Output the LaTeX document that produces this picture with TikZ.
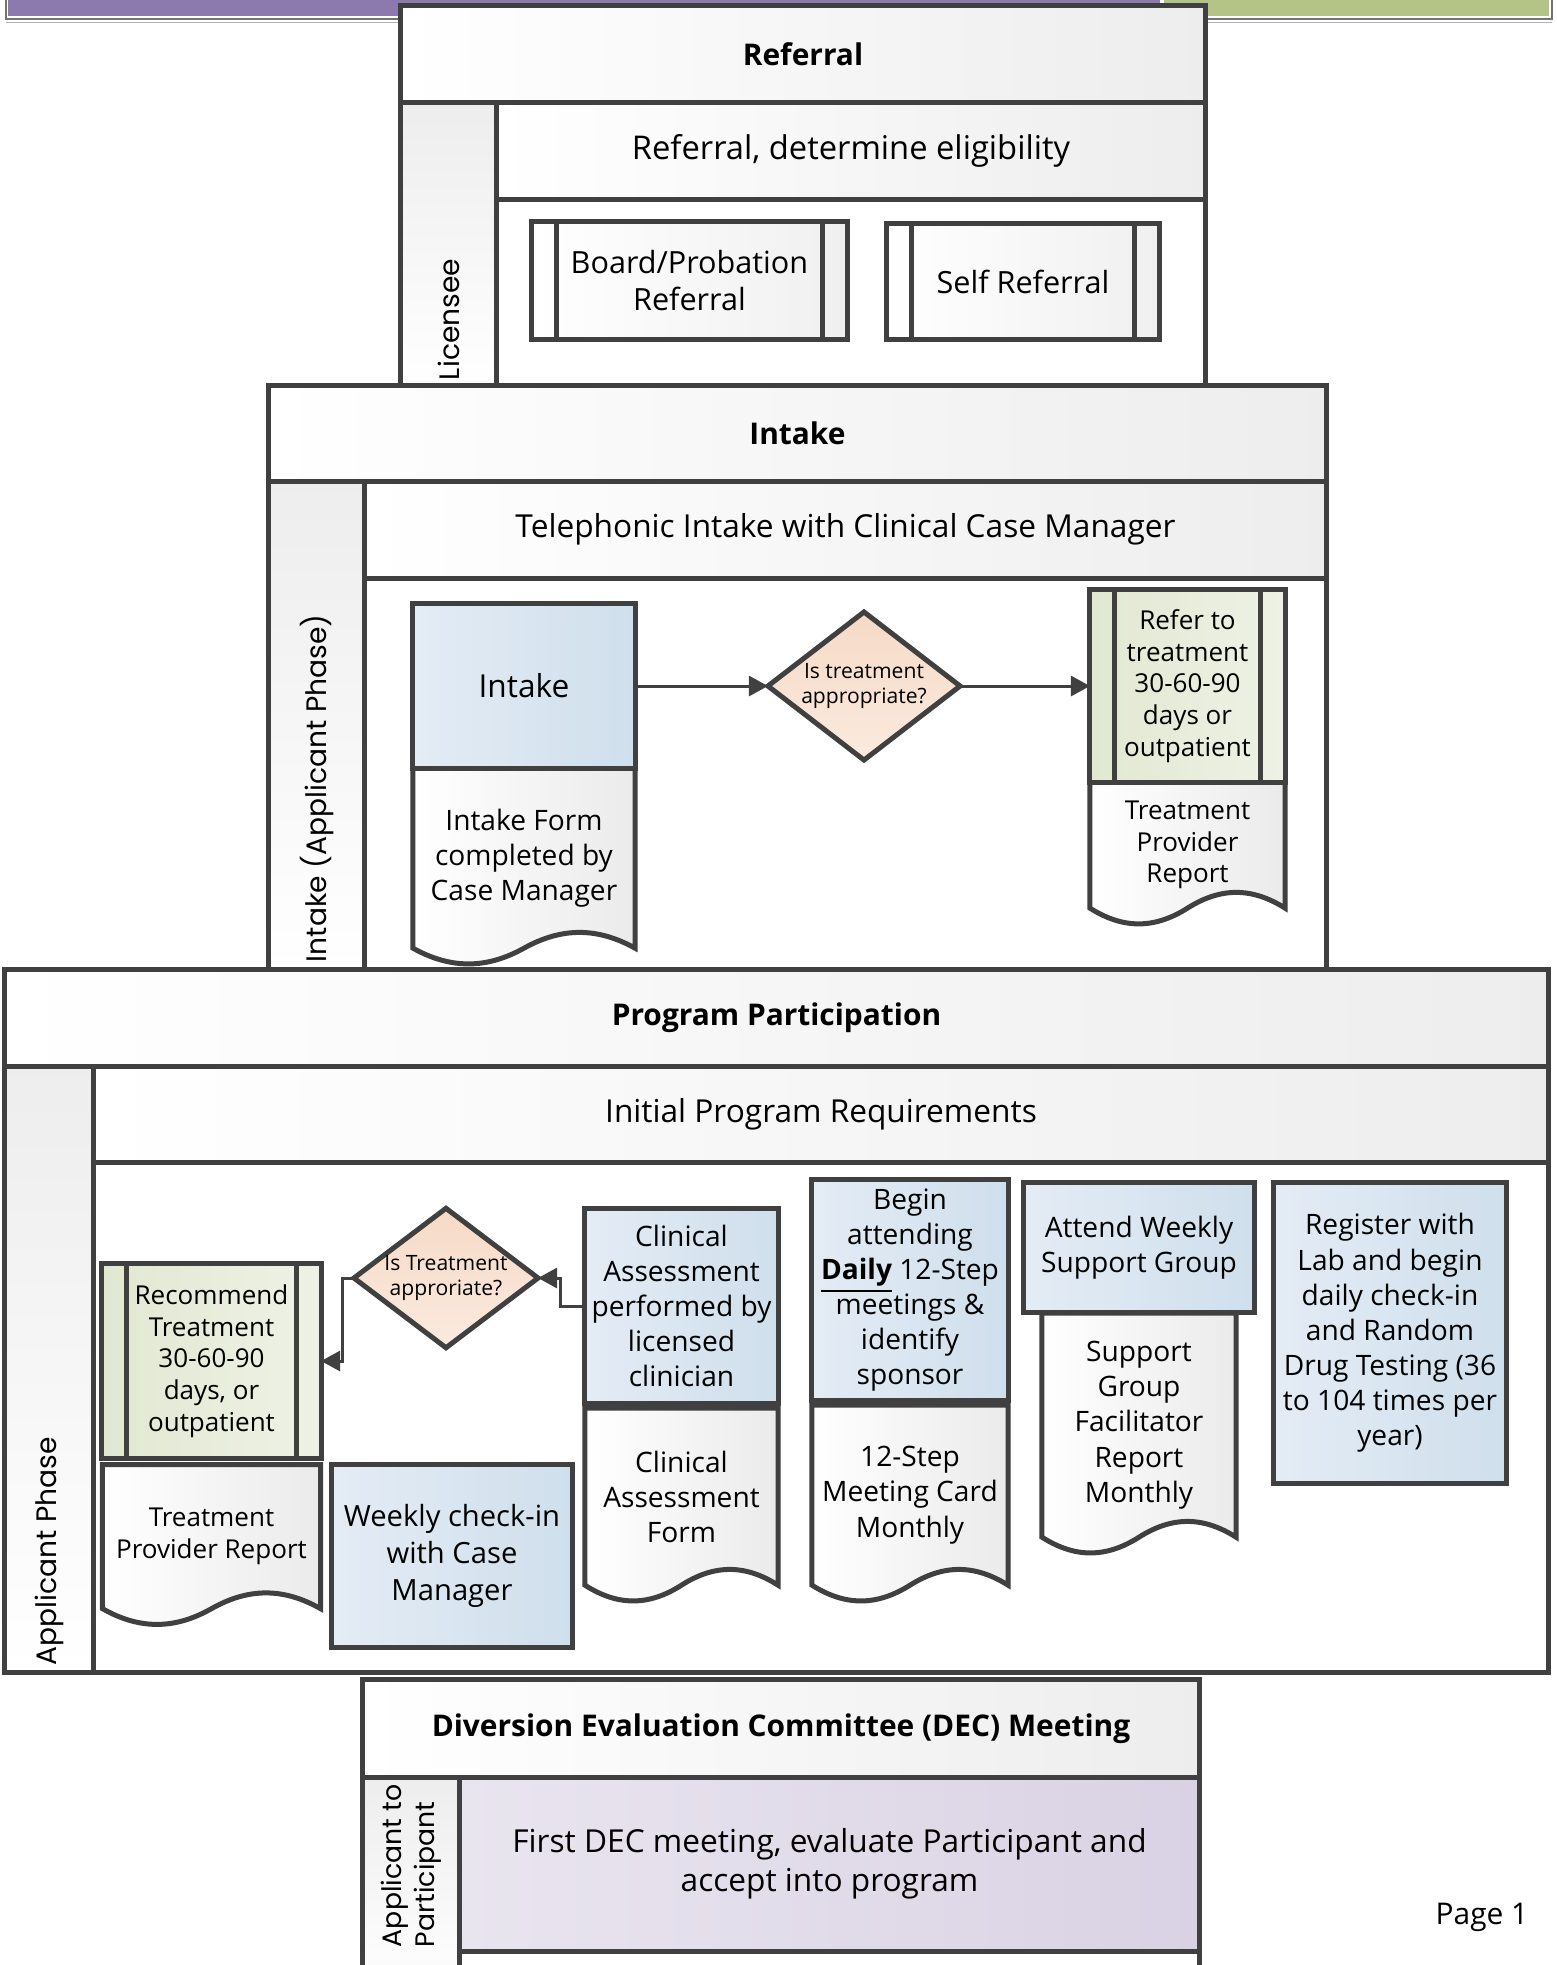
\documentclass[tikz,border=0pt]{standalone}
\usepackage{fontspec}
\setmainfont{Open Sans}
\newfontfamily\lanefont{Poppins}
\usetikzlibrary{arrows.meta,shapes.geometric,positioning,calc}

\pgfdeclarelayer{back}
\pgfsetlayers{back,main}

\definecolor{edgegray}{HTML}{404040}
\definecolor{bandpurple}{HTML}{8C7AAF}
\definecolor{bandgreen}{HTML}{B4C386}
\definecolor{taskblue}{HTML}{CFDFEC}
\definecolor{taskblue2}{HTML}{E4ECF5}
\definecolor{refgreen}{HTML}{E1E8D1}
\definecolor{refgreen2}{HTML}{EEF2E6}
\definecolor{decpeach}{HTML}{F6DAC6}
\definecolor{decpeach2}{HTML}{FBEADF}
\definecolor{declav}{HTML}{D9D2E4}
\definecolor{declav2}{HTML}{E9E5EF}

% outline of a document shape, put behind its text node
\newcommand{\docwave}[1]{%
  \begin{pgfonlayer}{back}
    \draw[docline] (#1.north west) -- (#1.south west)
      .. controls ($(#1.south west)!0.17!(#1.south east)+(0,21)$) and ($(#1.south west)!0.33!(#1.south east)+(0,21)$) .. ($(#1.south west)!0.5!(#1.south east)$)
      .. controls ($(#1.south west)!0.67!(#1.south east)+(0,-21)$) and ($(#1.south west)!0.83!(#1.south east)+(0,-21)$) .. (#1.south east)
      -- (#1.north east) -- cycle;
  \end{pgfonlayer}}

\begin{document}
\begin{tikzpicture}[x=0.01cm,y=-0.01cm,>={Triangle[length=0.19cm,width=0.2cm]},outer sep=0]
        \tikzstyle{rim}=[draw=edgegray,line width=0.05cm]
        \tikzstyle{poolhead}=[rim,rectangle,inner sep=0,minimum height=0.96cm,left color=white,right color=black!7,font=\fontsize{8.5}{10}\selectfont\bfseries]
        \tikzstyle{lanehead}=[rim,rectangle,inner sep=0,minimum height=0.97cm,left color=white,right color=black!7,font=\fontsize{9}{10.5}\selectfont]
        \tikzstyle{lanecol}=[rim,rectangle,inner sep=0,top color=black!7,bottom color=white]
        \tikzstyle{lanebody}=[rim,rectangle,inner sep=0]
        \tikzstyle{lanelabel}=[rotate=90,anchor=west,align=left,inner sep=0,font=\lanefont\fontsize{8}{9.5}\selectfont]
        \tikzstyle{box}=[rim,rectangle,inner sep=0,align=center,font=\fontsize{8}{10}\selectfont]
        \tikzstyle{task}=[box,left color=taskblue2,right color=taskblue]
        \tikzstyle{predef}=[box,path picture={\draw[edgegray,line width=0.05cm]
            ([xshift=0.25cm]path picture bounding box.north west) -- ([xshift=0.25cm]path picture bounding box.south west)
            ([xshift=-0.25cm]path picture bounding box.north east) -- ([xshift=-0.25cm]path picture bounding box.south east);}]
        \tikzstyle{greenpre}=[predef,left color=refgreen,right color=refgreen2,font=\fontsize{7.4}{9}\selectfont]
        \tikzstyle{docnode}=[rectangle,inner sep=0,align=center,font=\fontsize{8}{10}\selectfont]
        \tikzstyle{docline}=[rim,left color=white,right color=black!8]
        \tikzstyle{decision}=[rim,diamond,aspect=1.3,inner sep=0,align=center,top color=decpeach,bottom color=decpeach2,font=\fontsize{6}{7}\selectfont]
        \tikzstyle{conn}=[draw=edgegray,line width=0.03cm]

        \useasboundingbox (0,0) rectangle (1556,1965);
        \clip (0,0) rectangle (1556,1965);

        % page header band
        \fill[bandpurple] (8,0) rectangle (1160,16);
        \fill[bandgreen] (1164,0) rectangle (1549,16);
        \draw[black!55,line width=0.02cm] (6,0) -- (6,19) -- (1552,19) -- (1552,0);
        \draw[black!30,line width=0.01cm] (6,22) -- (1552,22);

        % Referral pool
        \node [poolhead,minimum width=8.04cm] (refpool) at (803,54) {Referral};
        \node [lanehead,minimum width=7.08cm,font=\fontsize{9.3}{11}\selectfont,below left=0cm and 0cm of refpool.south east] (reflane) {Referral, determine eligibility};
        \node [lanecol,minimum width=0.96cm,minimum height=2.83cm,below right=0cm and 0cm of refpool.south west] (refcol) {};
        \node [lanebody,minimum width=7.08cm,minimum height=1.86cm,below=0cm of reflane] (refbody) {};
        \node [lanelabel] (reflbl) at (449,380) {Licensee};
        \node [predef,left color=white,right color=black!6,minimum width=3.15cm,minimum height=1.17cm,font=\fontsize{8.7}{10.5}\selectfont] (bpref) at (689.5,280.5) {Board/Probation\\Referral};
        \node [predef,left color=white,right color=black!6,minimum width=2.72cm,minimum height=1.15cm,font=\fontsize{8.7}{10.5}\selectfont] (selfref) at (1023,281.5) {Self Referral};

        % Intake pool
        \node [poolhead,minimum width=10.57cm,minimum height=0.95cm] (inpool) at (797.5,433.5) {Intake};
        \node [lanehead,minimum width=9.61cm,below left=0cm and 0cm of inpool.south east] (inlane) {Telephonic Intake with Clinical Case Manager};
        \node [lanecol,minimum width=0.96cm,minimum height=4.90cm,below right=0cm and 0cm of inpool.south west] (incol) {};
        \node [lanebody,minimum width=9.61cm,minimum height=3.93cm,below=0cm of inlane] (inbody) {};
        \node [lanelabel] (inlbl) at (317,962) {Intake (Applicant Phase)};

        \node [task,minimum width=2.22cm,minimum height=1.64cm,font=\fontsize{9}{11}\selectfont] (intake) at (524,686) {Intake};
        \node [docnode,minimum width=2.22cm,minimum height=1.80cm,below=0cm of intake] (intakeform) {Intake Form\\completed by\\Case Manager};
        \docwave{intakeform}
        \node [decision,minimum width=1.92cm,minimum height=1.48cm] (txappr) at (864,686) {Is treatment\\appropriate?};
        \node [greenpre,minimum width=1.95cm,minimum height=1.92cm] (refertx) at (1187.5,686) {Refer to\\treatment\\30-60-90\\days or\\outpatient};
        \node [docnode,minimum width=1.95cm,minimum height=1.26cm,font=\fontsize{7.4}{9}\selectfont,below=0cm of refertx] (tprintake) {Treatment\\Provider\\Report};
        \docwave{tprintake}
        \draw [conn,->] (intake) -- (txappr);
        \draw [conn,->] (txappr) -- (refertx);

        % Program Participation pool
        \node [poolhead,minimum width=15.43cm] (progpool) at (776.5,1018) {Program Participation};
        \node [lanehead,minimum width=14.54cm,minimum height=0.96cm,below left=0cm and 0cm of progpool.south east] (proglane) {Initial Program Requirements};
        \node [lanecol,minimum width=0.89cm,minimum height=6.06cm,below right=0cm and 0cm of progpool.south west] (progcol) {};
        \node [lanebody,minimum width=14.54cm,minimum height=5.10cm,below=0cm of proglane] (progbody) {};
        \node [lanelabel] (proglbl) at (49.5,1665) {Applicant Phase};

        \node [greenpre,minimum width=2.19cm,minimum height=1.95cm] (recommend) at (211.5,1361) {Recommend\\Treatment\\30-60-90\\days, or\\outpatient};
        \node [docnode,minimum width=2.18cm,minimum height=1.44cm,font=\fontsize{7.4}{9}\selectfont,below=0.06cm of recommend] (tprprog) {Treatment\\Provider Report};
        \docwave{tprprog}
        \node [decision,minimum width=1.84cm,minimum height=1.38cm] (txappr2) at (446,1278) {Is Treatment\\approriate?};
        \node [task,minimum width=2.40cm,minimum height=1.82cm,font=\fontsize{8.3}{10.5}\selectfont] (weekly) at (452,1556) {Weekly check-in\\with Case\\Manager};
        \node [task,minimum width=1.93cm,minimum height=1.94cm] (clinical) at (681.5,1306) {Clinical\\Assessment\\performed by\\licensed\\clinician};
        \node [docnode,minimum width=1.93cm,minimum height=1.77cm,below=0.05cm of clinical] (clinform) {Clinical\\Assessment\\Form};
        \docwave{clinform}
        \node [task,minimum width=1.96cm,minimum height=2.20cm] (begin) at (910,1290) {Begin\\attending\\\underline{\textbf{Daily}} 12-Step\\meetings \&\\identify\\sponsor};
        \node [docnode,minimum width=1.96cm,minimum height=1.80cm,below=0.05cm of begin] (stepcard) {12-Step\\Meeting Card\\Monthly};
        \docwave{stepcard}
        \node [task,minimum width=2.30cm,minimum height=1.29cm] (attend) at (1139,1247.5) {Attend Weekly\\Support Group};
        \node [docnode,minimum width=1.94cm,minimum height=2.24cm,below=0.01cm of attend] (supportrep) {Support\\Group\\Facilitator\\Report\\Monthly};
        \docwave{supportrep}
        \node [task,minimum width=2.32cm,minimum height=3.00cm] (register) at (1390,1333) {Register with\\Lab and begin\\daily check-in\\and Random\\Drug Testing (36\\to 104 times per\\year)};
        \draw [conn,->] (clinical.west) -- ++(-24,0) |- (txappr2.east);
        \draw [conn,->] (txappr2.west) -- ++(-11,0) |- (recommend.east);

        % DEC pool
        \node [poolhead,minimum width=8.36cm,minimum height=0.97cm] (decpool) at (781,1728.5) {Diversion Evaluation Committee (DEC) Meeting};
        \node [lanehead,minimum width=7.39cm,minimum height=1.74cm,left color=declav2,right color=declav,align=center,font=\fontsize{9}{11}\selectfont,below left=0cm and 0cm of decpool.south east] (declane) {First DEC meeting, evaluate Participant and\\accept into program};
        \node [lanecol,minimum width=0.97cm,minimum height=2.14cm,below right=0cm and 0cm of decpool.south west] (deccol) {};
        \node [lanebody,minimum width=7.39cm,minimum height=0.40cm,below=0cm of declane] (decbody) {};
        \node [lanelabel,font=\lanefont\fontsize{7.6}{9.5}\selectfont] (declbl) at (411.5,1947) {Applicant to\\Participant};

        \node [font=\fontsize{8.5}{10}\selectfont] (pagenum) at (1482,1917) {Page 1};
\end{tikzpicture}
\end{document}
